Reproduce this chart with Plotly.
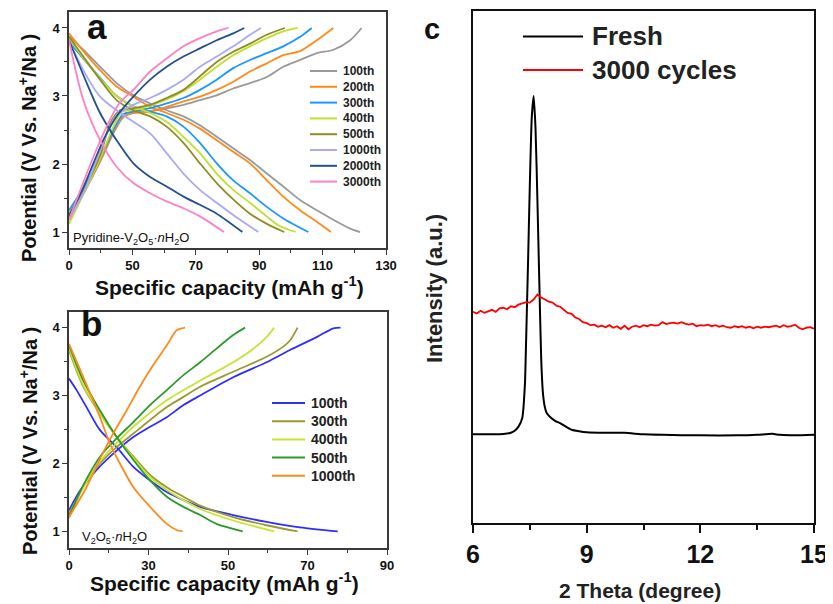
import plotly.graph_objects as go

FONT = "Liberation Sans, Arial, sans-serif"

# ---------------- Panel a : Pyridine-V2O5·nH2O (x in axis units; axis labelled 0,50,...,130) ----------------
a_labels = ["100th", "200th", "300th", "400th", "500th", "1000th", "2000th", "3000th"]
a_colors = ["#9a9a9a", "#ff8a1c", "#1e96ff", "#bfe02c", "#8e8e22", "#a9a9f7", "#22508f", "#ff80c4"]

a100_dis = [(30, 3.88), (34.5, 3.68), (39.8, 3.43), (45, 3.19), (50.3, 3.01), (55.6, 2.89), (60.8, 2.79), (66.1, 2.70), (71.3, 2.57), (76.6, 2.40), (81.8, 2.23), (87.1, 2.06), (92.4, 1.86), (97.6, 1.67), (102.9, 1.47), (108.2, 1.32), (113.4, 1.18), (118.7, 1.05), (121.8, 1.0)]
a200_dis = [(30, 3.92), (34.5, 3.66), (39.8, 3.38), (45, 3.14), (50.3, 2.99), (55.6, 2.84), (60.8, 2.75), (66.1, 2.65), (71.3, 2.52), (76.6, 2.35), (81.8, 2.18), (87.1, 2.01), (92.4, 1.76), (97.6, 1.52), (102.9, 1.32), (108.2, 1.15), (112.6, 1.0)]
a300_dis = [(30, 3.80), (34.5, 3.55), (39.8, 3.27), (45, 3.00), (50.3, 2.85), (55.6, 2.77), (60.8, 2.70), (66.1, 2.55), (71.3, 2.31), (76.6, 2.01), (81.8, 1.76), (87.1, 1.57), (92.4, 1.37), (97.6, 1.20), (105.5, 1.0)]
a400_dis = [(30, 3.85), (34.5, 3.56), (39.8, 3.26), (45, 3.00), (50.3, 2.85), (55.6, 2.75), (60.8, 2.62), (66.1, 2.40), (71.3, 2.16), (76.6, 1.86), (81.8, 1.62), (87.1, 1.43), (92.4, 1.23), (96.0, 1.10), (101.5, 1.0)]
a500_dis = [(30, 3.87), (34.5, 3.58), (39.8, 3.24), (45, 2.94), (50.3, 2.79), (55.6, 2.70), (60.8, 2.55), (66.1, 2.31), (71.3, 2.01), (76.6, 1.72), (81.8, 1.48), (87.1, 1.27), (92.4, 1.12), (97.9, 1.0)]
a1000_dis = [(30, 3.82), (34.5, 3.38), (39.8, 2.99), (45, 2.79), (50.3, 2.62), (55.6, 2.45), (60.8, 2.16), (66.1, 1.86), (71.3, 1.62), (76.6, 1.43), (81.8, 1.25), (89.7, 1.0)]
a2000_dis = [(30, 3.82), (35.6, 3.19), (39.8, 2.75), (45, 2.35), (50.3, 2.01), (55.6, 1.81), (60.8, 1.67), (66.1, 1.52), (71.3, 1.40), (76.6, 1.27), (84.7, 1.0)]
a3000_dis = [(30, 3.82), (34.5, 2.94), (39.8, 2.35), (45, 1.96), (50.3, 1.72), (55.6, 1.57), (60.8, 1.45), (66.1, 1.35), (71.3, 1.23), (78.9, 1.0)]

a100_chg = [(30, 1.18), (35, 1.60), (40, 2.05), (44, 2.45), (47, 2.68), (50.3, 2.75), (55.6, 2.78), (60.8, 2.82), (66.1, 2.87), (71.3, 2.94), (76.6, 3.01), (81.8, 3.11), (87.1, 3.19), (92.4, 3.28), (97.6, 3.43), (102.9, 3.53), (108.2, 3.63), (113.4, 3.68), (118.7, 3.82), (122.3, 4.0)]
a200_chg = [(30, 1.22), (35, 1.62), (40, 2.07), (44, 2.47), (47, 2.70), (50.3, 2.75), (55.6, 2.77), (60.8, 2.84), (66.1, 2.92), (71.3, 2.99), (76.6, 3.09), (81.8, 3.21), (87.1, 3.36), (92.4, 3.48), (97.6, 3.60), (102.9, 3.66), (108.2, 3.82), (113.4, 4.0)]
a300_chg = [(30, 1.32), (35, 1.68), (40, 2.10), (44, 2.50), (47, 2.73), (50.3, 2.77), (55.6, 2.82), (60.8, 2.89), (66.1, 2.97), (71.3, 3.09), (76.6, 3.24), (81.8, 3.41), (87.1, 3.53), (92.4, 3.63), (97.6, 3.73), (102.9, 3.87), (106.6, 4.0)]
a400_chg = [(30, 1.12), (35, 1.60), (40, 2.10), (44, 2.55), (46.5, 2.76), (50.3, 2.80), (55.6, 2.86), (60.8, 2.95), (66.1, 3.07), (71.3, 3.24), (76.6, 3.43), (81.8, 3.60), (87.1, 3.73), (92.4, 3.85), (97.6, 3.95), (102.1, 4.0)]
a500_chg = [(30, 1.27), (35, 1.65), (40, 2.15), (43, 2.60), (46.1, 2.79), (50.3, 2.82), (55.6, 2.87), (60.8, 2.97), (66.1, 3.09), (71.3, 3.29), (76.6, 3.50), (81.8, 3.65), (87.1, 3.77), (92.4, 3.90), (98.1, 4.0)]
a1000_chg = [(30, 1.18), (35, 1.62), (38.7, 2.06), (42, 2.45), (45, 2.72), (50.3, 2.87), (55.6, 2.97), (60.8, 3.09), (66.1, 3.24), (71.3, 3.43), (76.6, 3.58), (81.8, 3.73), (87.1, 3.90), (90.6, 4.0)]
a2000_chg = [(30, 1.23), (34, 1.60), (37.7, 2.01), (41, 2.37), (45, 2.70), (50.3, 2.99), (55.6, 3.24), (60.8, 3.43), (66.1, 3.58), (71.3, 3.70), (76.6, 3.82), (81.8, 3.92), (85.3, 4.0)]
a3000_chg = [(30, 1.18), (35.6, 1.86), (39, 2.25), (42.9, 2.65), (46, 2.90), (50.3, 3.09), (55.6, 3.36), (60.8, 3.55), (66.1, 3.73), (71.3, 3.85), (76.6, 3.95), (80.3, 4.0)]

a_dis = [a100_dis, a200_dis, a300_dis, a400_dis, a500_dis, a1000_dis, a2000_dis, a3000_dis]
a_chg = [a100_chg, a200_chg, a300_chg, a400_chg, a500_chg, a1000_chg, a2000_chg, a3000_chg]
a_xtickvals = [30, 50, 70, 90, 110, 130]
a_xticktext = ["0", "50", "70", "90", "110", "130"]

# ---------------- Panel b : V2O5·nH2O (axis labelled 0,30,...,90) ----------------
b_labels = ["100th", "300th", "400th", "500th", "1000th"]
b_colors = ["#2e2eff", "#9a9a2e", "#c6e432", "#2b9a2b", "#ff8a1c"]

b100_dis = [(10, 3.25), (11.9, 3.08), (14.4, 2.83), (17.8, 2.49), (22, 2.24), (26.2, 1.95), (30.4, 1.75), (34.6, 1.58), (38.8, 1.46), (43, 1.36), (51.3, 1.24), (59.7, 1.14), (68.1, 1.06), (77.6, 1.0)]
b300_dis = [(10, 3.67), (13.6, 3.13), (17.8, 2.73), (22, 2.39), (26.2, 2.10), (30.4, 1.83), (34.6, 1.65), (38.8, 1.51), (43, 1.38), (51.3, 1.21), (59.7, 1.09), (67.5, 1.0)]
b400_dis = [(10, 3.70), (13.6, 3.15), (17.8, 2.74), (22, 2.39), (26.2, 2.08), (30.4, 1.80), (34.6, 1.61), (38.8, 1.46), (43, 1.33), (51.3, 1.16), (61.6, 1.0)]
b500_dis = [(10, 3.74), (13.6, 3.22), (17.8, 2.78), (22, 2.39), (26.2, 2.05), (30.4, 1.75), (34.6, 1.51), (38.8, 1.36), (43, 1.24), (47.1, 1.11), (53.7, 1.0)]
b1000_dis = [(10, 3.76), (13.6, 3.27), (17.8, 2.68), (20.3, 2.29), (22.8, 2.00), (26.2, 1.65), (30.4, 1.36), (34.6, 1.11), (37.1, 1.02), (38.6, 1.0)]

b100_chg = [(10, 1.31), (12.8, 1.60), (16.1, 1.85), (20.3, 2.10), (26.2, 2.39), (30.4, 2.54), (34.6, 2.68), (38.8, 2.86), (43, 3.00), (51.3, 3.27), (59.7, 3.49), (65.6, 3.67), (72.3, 3.86), (76.5, 3.99), (78.3, 4.0)]
b300_chg = [(10, 1.26), (13.6, 1.65), (17.8, 2.00), (22, 2.24), (26.2, 2.44), (30.4, 2.64), (34.6, 2.83), (38.8, 2.98), (43, 3.13), (51.3, 3.35), (59.7, 3.57), (63.9, 3.72), (65.6, 3.81), (67.5, 4.0)]
b400_chg = [(10, 1.20), (13.6, 1.65), (17.8, 2.03), (22, 2.30), (26.2, 2.54), (34.6, 2.93), (43, 3.22), (51.3, 3.49), (56.4, 3.69), (59.7, 3.86), (61.6, 4.0)]
b500_chg = [(10, 1.21), (13.6, 1.68), (17.8, 2.10), (22, 2.37), (26.2, 2.61), (30.4, 2.86), (34.6, 3.08), (38.8, 3.30), (43, 3.49), (47.1, 3.69), (51.3, 3.89), (54.3, 4.0)]
b1000_chg = [(10, 1.21), (14.4, 1.65), (17.8, 2.07), (21.1, 2.44), (24.5, 2.78), (27.8, 3.13), (31.2, 3.45), (34.6, 3.74), (37.1, 3.96), (39.2, 4.0)]

b_dis = [b100_dis, b300_dis, b400_dis, b500_dis, b1000_dis]
b_chg = [b100_chg, b300_chg, b400_chg, b500_chg, b1000_chg]
b_xtickvals = [10, 30, 50, 70, 90]
b_xticktext = ["0", "30", "50", "70", "90"]

# ---------------- Panel c : XRD ----------------
fresh_x = [6.0, 6.5, 6.8, 7.0, 7.1, 7.2, 7.3, 7.37, 7.4, 7.45, 7.5, 7.55, 7.6, 7.65, 7.7, 7.75, 7.8, 7.85, 7.9, 7.95, 8.05, 8.2, 8.3, 8.45, 8.6, 8.8, 9.0, 9.5, 10.0, 10.5, 11.0, 12.0, 13.0, 13.5, 13.9, 14.1, 14.5, 15.0]
fresh_y = [17.3, 17.3, 17.35, 17.6, 18.0, 18.8, 20.5, 27.0, 35.0, 50.0, 66.0, 79.0, 83.3, 77.0, 63.0, 47.0, 32.0, 25.0, 22.5, 21.4, 20.6, 19.8, 19.5, 18.8, 18.2, 17.9, 17.7, 17.6, 17.6, 17.3, 17.2, 17.1, 17.1, 17.2, 17.4, 17.2, 17.1, 17.2]

cyc_x = [6.0, 6.1, 6.2, 6.3, 6.4, 6.5, 6.6, 6.7, 6.8, 6.9, 7.0, 7.1, 7.2, 7.3, 7.4, 7.5, 7.6, 7.7, 7.8, 7.9,
         8.0, 8.1, 8.2, 8.3, 8.4, 8.5, 8.6, 8.7, 8.8, 8.9, 9.0, 9.1, 9.2, 9.3, 9.4, 9.5, 9.6, 9.7, 9.8, 9.9,
         10.0, 10.1, 10.2, 10.3, 10.4, 10.5, 10.6, 10.7, 10.8, 10.9, 11.0, 11.1, 11.2, 11.3, 11.4, 11.5, 11.6, 11.7, 11.8, 11.9,
         12.0, 12.1, 12.2, 12.3, 12.4, 12.5, 12.6, 12.7, 12.8, 12.9, 13.0, 13.1, 13.2, 13.3, 13.4, 13.5, 13.6, 13.7, 13.8, 13.9,
         14.0, 14.1, 14.2, 14.3, 14.4, 14.5, 14.6, 14.7, 14.8, 14.9, 15.0]
cyc_y = [41.2, 40.9, 41.4, 41.0, 41.3, 41.6, 41.2, 41.9, 42.0, 41.7, 42.3, 42.1, 42.6, 42.9, 43.1, 43.0, 43.6, 44.6, 44.0, 43.6,
         43.2, 43.0, 42.4, 42.2, 41.6, 41.0, 40.8, 40.1, 39.8, 39.2, 39.0, 38.6, 38.7, 38.3, 38.5, 38.2, 38.6, 38.1, 38.4, 37.9,
         38.5, 37.8, 38.3, 38.5, 38.2, 38.6, 38.4, 38.7, 38.5, 38.6, 39.2, 38.8, 39.0, 39.1, 38.9, 39.2, 38.9, 38.7, 38.9, 38.4,
         38.6, 38.5, 38.7, 38.4, 38.6, 38.3, 38.5, 38.2, 38.1, 38.4, 38.2, 38.4, 38.1, 38.3, 38.0, 38.3, 38.1, 38.3, 38.2, 38.4,
         38.5, 38.2, 38.6, 38.3, 38.4, 38.7, 38.1, 37.8, 38.1, 38.2, 37.9]
c_labels = ["Fresh", "3000 cycles"]
c_colors = ["#000000", "#ff0000"]
c_xtickvals = [6, 9, 12, 15]

W, H = 833, 604
OFF = 8  # page body margin offset in the screenshot


def px(x):
    return (x - OFF) / W


def py(y):
    return 1 - (y - OFF) / H


fig = go.Figure()

for lab, col, d, c in zip(a_labels, a_colors, a_dis, a_chg):
    for seg in (d, c):
        fig.add_trace(go.Scatter(x=[p[0] for p in seg], y=[p[1] for p in seg], mode="lines",
                                 line=dict(color=col, width=1.8, shape="spline", smoothing=0.8),
                                 name=lab, showlegend=False, xaxis="x", yaxis="y", hoverinfo="skip"))

for lab, col, d, c in zip(b_labels, b_colors, b_dis, b_chg):
    for seg in (d, c):
        fig.add_trace(go.Scatter(x=[p[0] for p in seg], y=[p[1] for p in seg], mode="lines",
                                 line=dict(color=col, width=1.8, shape="spline", smoothing=0.8),
                                 name=lab, showlegend=False, xaxis="x2", yaxis="y2", hoverinfo="skip"))

fig.add_trace(go.Scatter(x=fresh_x, y=fresh_y, mode="lines", line=dict(color=c_colors[0], width=2, shape="spline", smoothing=0.5),
                         name=c_labels[0], showlegend=False, xaxis="x3", yaxis="y3"))
fig.add_trace(go.Scatter(x=cyc_x, y=cyc_y, mode="lines", line=dict(color=c_colors[1], width=1.8),
                         name=c_labels[1], showlegend=False, xaxis="x3", yaxis="y3"))

AX = "#3a3a3a"
tickfont_ab = dict(family=FONT, size=13, color="#111", weight=700)
common_ab = dict(showline=True, linecolor=AX, linewidth=1.5, mirror=True, ticks="outside", ticklen=5,
                 tickwidth=1.2, tickcolor=AX, showgrid=False, zeroline=False, tickfont=tickfont_ab,
                 automargin=False)

fig.update_layout(
    width=W, height=H, margin=dict(l=0, r=0, t=0, b=0, autoexpand=False),
    paper_bgcolor="white", plot_bgcolor="white", showlegend=False,
    xaxis=dict(domain=[px(69), px(386)], range=[30, 130], anchor="y", tickmode="array",
               tickvals=a_xtickvals, ticktext=a_xticktext,
               minor=dict(dtick=10, tick0=30, ticks="outside", ticklen=3, tickcolor=AX), **common_ab),
    yaxis=dict(domain=[py(248), py(12)], range=[0.765, 4.235], anchor="x", tickmode="array",
               tickvals=[1, 2, 3, 4], minor=dict(dtick=0.5, tick0=0.5, ticks="outside", ticklen=3, tickcolor=AX),
               **common_ab),
    xaxis2=dict(domain=[px(69), px(387)], range=[10, 90], anchor="y2", tickmode="array",
                tickvals=b_xtickvals, ticktext=b_xticktext,
                minor=dict(dtick=10, tick0=10, ticks="outside", ticklen=3, tickcolor=AX), **common_ab),
    yaxis2=dict(domain=[py(548), py(312)], range=[0.755, 4.23], anchor="x2", tickmode="array",
                tickvals=[1, 2, 3, 4], minor=dict(dtick=0.5, tick0=0.5, ticks="outside", ticklen=3, tickcolor=AX),
                **common_ab),
    xaxis3=dict(domain=[px(473), px(814)], range=[6, 15], anchor="y3", tickmode="array", tickvals=c_xtickvals,
                showline=True, linecolor="#111", linewidth=2, mirror=True, ticks="outside", ticklen=8, tickwidth=2,
                tickcolor="#111", minor=dict(dtick=1.5, tick0=6, ticks="outside", ticklen=5, tickcolor="#111"),
                showgrid=False, zeroline=False, automargin=False,
                tickfont=dict(family=FONT, size=25, color="#111", weight=700)),
    yaxis3=dict(domain=[py(523), py(10.5)], range=[0, 100], anchor="x3", showline=True, linecolor="#111", linewidth=2,
                mirror=True, ticks="", showticklabels=False, showgrid=False, zeroline=False, automargin=False),
)

ann = []
shapes = []


def text(t, x, y, size, bold=True, angle=0, xanchor="center", color="#111"):
    f = dict(family=FONT, size=size, color=color)
    if bold:
        f["weight"] = 700
    ann.append(dict(text=t, x=px(x), y=py(y), xref="paper", yref="paper", showarrow=False, textangle=angle,
                    xanchor=xanchor, yanchor="middle", font=f))


# axis titles
text("Specific capacity (mAh g<sup>-1</sup>)", 229, 286, 21)
text("Specific capacity (mAh g<sup>-1</sup>)", 224, 582, 21)
text("Potential (V Vs. Na<sup>+</sup>/Na )", 28, 148, 20, angle=-90)
text("Potential (V Vs. Na<sup>+</sup>/Na )", 28, 441, 20, angle=-90)
text("2 Theta (degree)", 640, 590, 21, color="#222")
text("Intensity (a.u.)", 435, 288, 22, angle=-90, color="#222")
# panel labels
text("a", 97, 27, 35)
text("b", 91, 323, 35)
text("c", 432, 29, 29)
# sample names
text("Pyridine-V<sub>2</sub>O<sub>5</sub>·<i>n</i>H<sub>2</sub>O", 71, 238, 13, bold=False, xanchor="left")
text("V<sub>2</sub>O<sub>5</sub>·<i>n</i>H<sub>2</sub>O", 80, 537, 13, bold=False, xanchor="left")


def leg_line(x0, x1, y, col):
    shapes.append(dict(type="line", xref="paper", yref="paper", x0=px(x0), x1=px(x1), y0=py(y), y1=py(y),
                       line=dict(color=col, width=2)))


for i, (lab, col) in enumerate(zip(a_labels, a_colors)):
    yy = 71 + 15.8 * i
    leg_line(310, 337, yy, col)
    text(lab, 341, yy, 12, xanchor="left", color="#222")
for i, (lab, col) in enumerate(zip(b_labels, b_colors)):
    yy = 403 + 18.2 * i
    leg_line(272, 305, yy, col)
    text(lab, 309, yy, 14, xanchor="left", color="#222")
for i, (lab, col) in enumerate(zip(c_labels, c_colors)):
    yy = 36.5 + 33.5 * i
    leg_line(523, 583, yy, col)
    text(lab, 590, yy, 26, xanchor="left", color="#222")

fig.update_layout(annotations=ann, shapes=shapes)
fig.write_html("out.html")
